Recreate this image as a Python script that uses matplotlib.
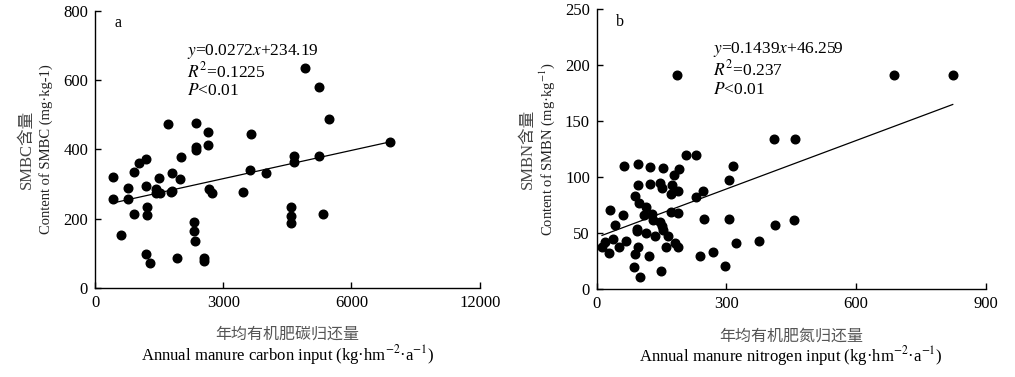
import matplotlib
matplotlib.use('Agg')
import matplotlib.pyplot as pl
import numpy as np

pl.rcParams['font.family'] = ['Liberation Serif', 'Noto Sans CJK SC', 'DejaVu Sans']
pl.rcParams['mathtext.fontset'] = 'stix'

# panel a: manure carbon input vs SMBC
carbon_x = [430, 430, 602, 773, 773, 922, 922, 1031, 1195, 1195, 1227, 1211, 1195,
            1289, 1430, 1430, 1523, 1508, 1719, 1812, 1812, 1781, 1977, 2016, 1914,
            2367, 2367, 2367, 2633, 2633, 2656, 2734, 2320, 2320, 2344, 2539, 2539,
            3453, 3656, 3633, 4008, 4586, 4586, 4586, 4648, 4648, 4922, 5250, 5250,
            5484, 5336, 6891]
smbc_y = [321, 258, 152, 290, 256, 336, 215, 361, 373, 296, 235, 211, 98,
          73, 287, 275, 273, 317, 475, 331, 281, 277, 315, 379, 86,
          477, 408, 398, 451, 412, 287, 273, 190, 165, 137, 88, 79,
          278, 444, 342, 333, 235, 208, 187, 381, 365, 634, 581, 381,
          487, 215, 421]
fit_a = (0.0272, 234.19)

# panel b: manure nitrogen input vs SMBN
nitrogen_x = [185, 688, 824, 411, 458, 206, 229, 62, 95, 122, 153, 316, 191, 179,
              95, 123, 147, 151, 174, 172, 187, 305, 246, 229, 89, 98, 114, 127,
              172, 188, 31, 61, 110, 129, 147, 151, 154, 41, 92, 94, 115, 134,
              164, 247, 305, 413, 457, 12, 20, 28, 38, 51, 68, 95, 88, 161, 181,
              189, 120, 238, 269, 323, 375, 87, 100, 148, 297]
smbn_y = [191, 191, 191, 134, 134, 120, 120, 110, 112, 109, 108, 110, 107, 102,
          93, 94, 95, 90, 93, 85, 88, 97, 88, 82, 83, 77, 73, 67,
          69, 68, 71, 66, 66, 62, 60, 56, 53, 57, 54, 52, 50, 47,
          47, 63, 63, 57, 62, 38, 42, 32, 45, 38, 43, 38, 31, 38, 41,
          38, 30, 30, 33, 41, 43, 20, 11, 16, 21]
fit_b = (0.1439, 46.259)

panels = [
    dict(x=carbon_x, y=smbc_y, fit=fit_a, tag='a',
         xticks=[0, 3000, 6000, 9000], xticklabels=['0', '3000', '6000', '12000'],
         yticks=[0, 200, 400, 600, 800], xlim=(0, 9000), ylim=(0, 800),
         eq=['$y$=0.0272$x$+234.19', '$R^2$=0.1225', '$P$<0.01'], eq_pos=0.24,
         ylab_cn='SMBC含量', ylab_en='Content of SMBC (mg·kg-1)',
         xlab_cn='年均有机肥碳归还量',
         xlab_en='Annual manure carbon input (kg·hm$^{-2}$·a$^{-1}$)',
         rect=[0.0936, 0.236, 0.379, 0.735]),
    dict(x=nitrogen_x, y=smbn_y, fit=fit_b, tag='b',
         xticks=[0, 300, 600, 900], xticklabels=['0', '300', '600', '900'],
         yticks=[0, 50, 100, 150, 200, 250], xlim=(0, 900), ylim=(0, 250),
         eq=['$y$=0.1439$x$+46.259', '$R^2$=0.237', '$P$<0.01'], eq_pos=0.30,
         ylab_cn='SMBN含量', ylab_en='Content of SMBN (mg·kg$^{-1}$)',
         xlab_cn='年均有机肥氮归还量',
         xlab_en='Annual manure nitrogen input (kg·hm$^{-2}$·a$^{-1}$)',
         rect=[0.588, 0.233, 0.383, 0.743]),
]

fig = pl.figure(figsize=(10.15, 3.77), dpi=100)

for p in panels:
    ax = fig.add_axes(p['rect'])
    x = np.asarray(p['x'], dtype=float)
    y = np.asarray(p['y'], dtype=float)
    ax.plot(x, y, 'o', color='black', markersize=6.2, zorder=3)
    k, b = p['fit']
    xl = np.array([x.min(), x.max()])
    ax.plot(xl, k * xl + b, color='black', lw=0.9, zorder=2)

    ax.set_xlim(*p['xlim'])
    ax.set_ylim(*p['ylim'])
    ax.set_xticks(p['xticks'])
    ax.set_xticklabels(p['xticklabels'])
    ax.set_yticks(p['yticks'])
    for s in ['top', 'right']:
        ax.spines[s].set_visible(False)
    for s in ['left', 'bottom']:
        ax.spines[s].set_linewidth(1.0)
    ax.tick_params(direction='in', length=4, width=1, labelsize=12, pad=5)

    ax.text(0.05, 0.955, p['tag'], transform=ax.transAxes, fontsize=11.5,
            ha='left', va='center')
    for i, line in enumerate(p['eq']):
        ax.text(p['eq_pos'], 0.855 - i * 0.072, line, transform=ax.transAxes,
                fontsize=12.5, ha='left', va='center')

    ax.text(-0.177, 0.5, p['ylab_cn'], transform=ax.transAxes, rotation=90,
            fontsize=12, ha='center', va='center', color='#444444')
    ax.text(-0.128, 0.5, p['ylab_en'], transform=ax.transAxes, rotation=90,
            fontsize=10.5, ha='center', va='center', color='#222222')
    ax.text(0.5, -0.168, p['xlab_cn'], transform=ax.transAxes,
            fontsize=11.5, ha='center', va='center', color='#555555')
    ax.text(0.5, -0.24, p['xlab_en'], transform=ax.transAxes,
            fontsize=12, ha='center', va='center')

fig.savefig('out.png', dpi=100)
